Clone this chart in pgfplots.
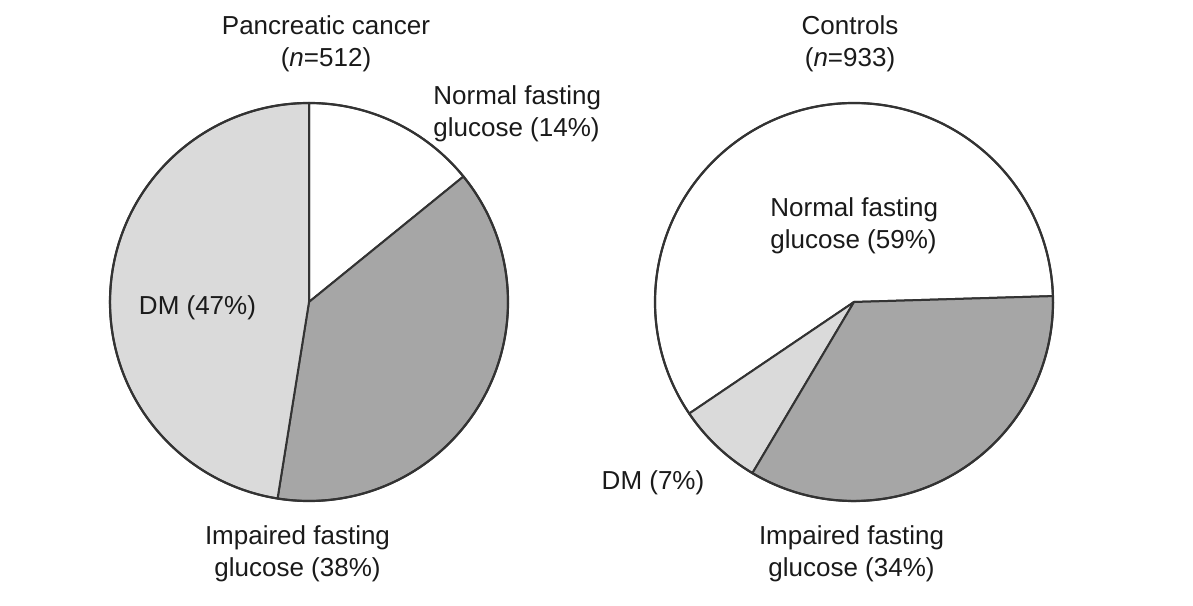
\documentclass[border=0pt]{standalone}
\usepackage{pgfplots}
\pgfplotsset{compat=1.18}
\usepackage{fontspec}
\setmainfont{Liberation Sans}
\definecolor{slicelight}{HTML}{DADADA}
\definecolor{slicedark}{HTML}{A6A6A6}
\definecolor{edge}{HTML}{333333}
\definecolor{txt}{HTML}{1A1A1A}
\def\R{99.5pt}
% #1 cx, #2 cy, #3 start angle, #4 direction, #5 total, #6 list value/colour
\newcommand{\piechart}[6]{%
  \pgfkeys{/pgf/fpu=false}%
  \xdef\pieA{#3}%
  \foreach \v/\col in {#6} {%
    \pgfmathsetmacro{\pieB}{\pieA + #4*(360/#5)*\v}%
    \filldraw[fill=\col, draw=edge, line width=1pt, line join=round]
      (axis cs:#1,#2) -- ++(\pieA:\R) arc[start angle=\pieA, end angle=\pieB, radius=\R] -- cycle;
    \xdef\pieA{\pieB}%
  }%
  \draw[edge, line width=1.1pt] (axis cs:#1,#2) circle[radius=\R];
}
\begin{document}
\begin{tikzpicture}
\begin{axis}[width=596.5pt,height=302.5pt,scale only axis,
  xmin=0,xmax=1193,ymin=0,ymax=605,hide axis,clip=false]
\addplot[draw=none] coordinates {(0,0) (1193,605)};
\pgfplotsextra{
  % Pancreatic cancer: normal 14, impaired 38, DM 47
  \piechart{309}{303}{90}{-1}{99}{14/white, 38/slicedark, 47/slicelight}
  % Controls: normal 59, DM 7, impaired 34
  \piechart{854}{303}{1.7}{1}{100}{59/white, 7/slicelight, 34/slicedark}
}
\begin{scope}[every node/.style={text=txt, font=\fontsize{13}{15.8}\selectfont}]
\node[align=center] at (axis cs:326,561.5) {Pancreatic cancer\\({\itshape n}=512)};
\node[align=center] at (axis cs:850,561.5) {Controls\\({\itshape n}=933)};
\node[align=left, anchor=west, inner sep=0pt] at (axis cs:433,491.5) {Normal fasting\\glucose (14\%)};
\node[align=left, anchor=west, inner sep=0pt] at (axis cs:770,379.5) {Normal fasting\\glucose (59\%)};
\node at (axis cs:197.5,297) {DM (47\%)};
\node at (axis cs:653,122.5) {DM (7\%)};
\node[align=center] at (axis cs:297.5,51) {Impaired fasting\\glucose (38\%)};
\node[align=center] at (axis cs:851.5,51) {Impaired fasting\\glucose (34\%)};
\end{scope}
\end{axis}
\end{tikzpicture}
\end{document}
